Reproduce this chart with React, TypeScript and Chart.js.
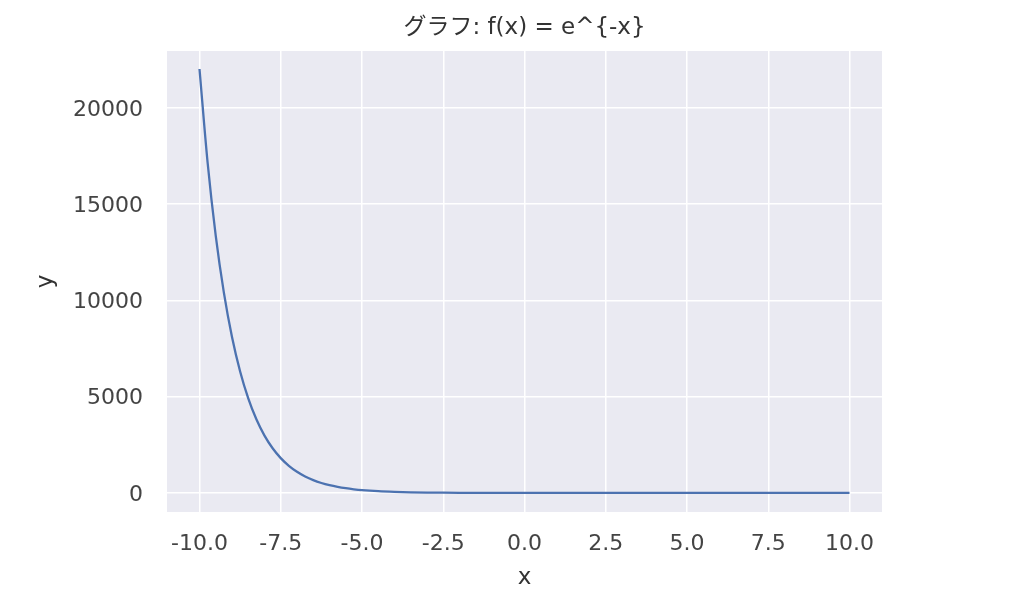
import React, { useEffect, useRef } from "react";
import { Chart, registerables } from "chart.js";

Chart.register(...registerables);

const xValues = [
  -10, -9.75, -9.5, -9.25, -9, -8.75, -8.5, -8.25, -8, -7.75, -7.5, -7.25, -7,
  -6.75, -6.5, -6.25, -6, -5.75, -5.5, -5.25, -5, -4.5, -4, -3.5, -3, -2.5, -2,
  -1, 0, 1, 2, 3, 4, 5, 6, 7, 8, 9, 10,
];
const yValues = [
  22026, 17154, 13360, 10405, 8103, 6311, 4915, 3828, 2981, 2322, 1808, 1408,
  1097, 854, 665, 518, 403, 314, 245, 191, 148, 90, 55, 33, 20, 12, 7.4, 2.7, 1,
  0.37, 0.14, 0.05, 0.02, 0.007, 0.002, 0.001, 0.0003, 0.0001, 0.00005,
];
const xTicks = [-10, -7.5, -5, -2.5, 0, 2.5, 5, 7.5, 10];
const yTicks = [0, 5000, 10000, 15000, 20000];

const titleText = "グラフ: f(x) = e^{-x}";
const xLabel = "x";
const yLabel = "y";

const FONT = "'DejaVu Sans', 'Noto Sans CJK JP', sans-serif";

export default function App() {
  const ref = useRef<HTMLCanvasElement | null>(null);

  useEffect(() => {
    document.body.style.margin = "0";
    const canvas = ref.current;
    if (!canvas) return;

    const bgPlugin = {
      id: "bg",
      beforeDraw(chart: any) {
        const { ctx, chartArea } = chart;
        ctx.save();
        ctx.fillStyle = "#ffffff";
        ctx.fillRect(0, 0, chart.width, chart.height);
        ctx.fillStyle = "#EAEAF2";
        ctx.fillRect(
          chartArea.left,
          chartArea.top,
          chartArea.right - chartArea.left,
          chartArea.bottom - chartArea.top
        );
        ctx.restore();
      },
      afterDraw(chart: any) {
        const { ctx, chartArea } = chart;
        ctx.save();
        ctx.fillStyle = "#333333";
        ctx.textAlign = "center";
        ctx.textBaseline = "middle";
        ctx.font = `23px ${FONT}`;
        ctx.fillText(titleText, (chartArea.left + chartArea.right) / 2, 28);
        ctx.font = `23px ${FONT}`;
        ctx.fillText(xLabel, (chartArea.left + chartArea.right) / 2, 578);
        ctx.translate(46, (chartArea.top + chartArea.bottom) / 2);
        ctx.rotate(-Math.PI / 2);
        ctx.fillText(yLabel, 0, 0);
        ctx.restore();
      },
    };

    const chart = new Chart(canvas, {
      type: "line",
      data: {
        datasets: [
          {
            data: xValues.map((x, i) => ({ x, y: yValues[i] })),
            borderColor: "#4C72B0",
            borderWidth: 2.3,
            pointRadius: 0,
            cubicInterpolationMode: "monotone",
            fill: false,
          },
        ],
      },
      options: {
        animation: false,
        responsive: false,
        layout: { padding: { left: 0, top: 51, right: 142, bottom: 0 } },
        plugins: {
          legend: { display: false },
          tooltip: { enabled: false },
          title: { display: false },
        },
        scales: {
          x: {
            type: "linear",
            min: -11,
            max: 11,
            afterBuildTicks(scale: any) {
              scale.ticks = xTicks.map((v) => ({ value: v }));
            },
            afterFit(scale: any) {
              scale.height = 96;
            },
            ticks: {
              padding: 19,
              color: "#444444",
              font: { family: FONT, size: 22 },
              callback: (v: any) => Number(v).toFixed(1),
              maxRotation: 0,
            },
            grid: { color: "#ffffff", lineWidth: 1.5, drawTicks: false },
            border: { display: false },
          },
          y: {
            type: "linear",
            min: -990,
            max: 22960,
            afterBuildTicks(scale: any) {
              scale.ticks = yTicks.map((v) => ({ value: v }));
            },
            afterFit(scale: any) {
              scale.width = 167;
            },
            ticks: {
              padding: 24,
              labelOffset: 2,
              color: "#444444",
              font: { family: FONT, size: 22 },
              callback: (v: any) => String(v),
            },
            grid: { color: "#ffffff", lineWidth: 1.5, drawTicks: false },
            border: { display: false },
          },
        },
      },
      plugins: [bgPlugin],
    });

    return () => chart.destroy();
  }, []);

  return (
    <canvas
      ref={ref}
      width={1024}
      height={608}
      style={{ display: "block", width: 1024, height: 608 }}
    />
  );
}
